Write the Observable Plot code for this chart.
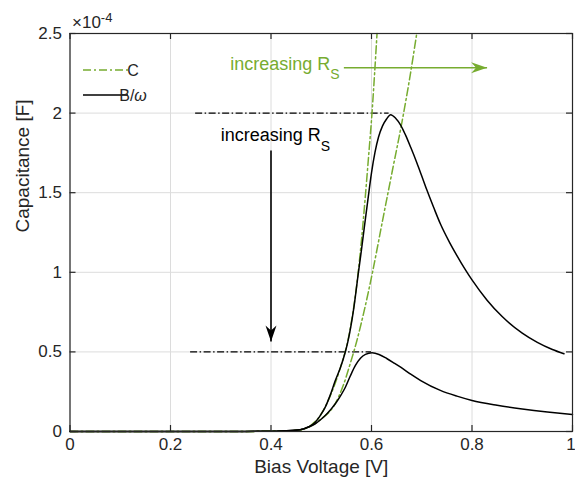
<!DOCTYPE html>
<html>
<head>
<meta charset="utf-8">
<script src="https://cdn.jsdelivr.net/npm/d3@7"></script>
<script src="https://cdn.jsdelivr.net/npm/@observablehq/plot@0.6"></script>
<style>
  html, body { margin: 0; padding: 0; background: #fff; }
  #chart { width: 575px; height: 486px; }
</style>
</head>
<body>
<div id="chart"></div>
<script>
// ---------- tick labels ----------
const xTicks = [0, 0.2, 0.4, 0.6, 0.8, 1];
const yTicks = [0, 0.5, 1, 1.5, 2, 2.5];      // in units of 1e-4 F
const yExponent = "-4";

// ---------- B/omega, low series resistance (tall peak) ----------
const bLowV = [0, 0.2, 0.35, 0.4, 0.43, 0.458, 0.475, 0.488, 0.498, 0.508, 0.518, 0.528, 0.538, 0.547, 0.553, 0.565, 0.574, 0.580, 0.586, 0.593, 0.600, 0.607, 0.614, 0.622, 0.630, 0.638, 0.648, 0.658, 0.668, 0.678, 0.690, 0.700, 0.711, 0.724, 0.737, 0.755, 0.770, 0.787, 0.800, 0.830, 0.860, 0.900, 0.930, 0.960, 0.983];
const bLowC = [0, 0, 0.0005, 0.002, 0.004, 0.011, 0.030, 0.058, 0.100, 0.153, 0.230, 0.320, 0.400, 0.490, 0.565, 0.780, 1.000, 1.140, 1.290, 1.460, 1.625, 1.755, 1.850, 1.920, 1.963, 1.990, 1.968, 1.925, 1.860, 1.785, 1.690, 1.605, 1.510, 1.405, 1.305, 1.190, 1.105, 1.015, 0.952, 0.825, 0.722, 0.618, 0.560, 0.515, 0.488];

// ---------- B/omega, high series resistance (low peak) ----------
const bHighV = [0, 0.2, 0.35, 0.4, 0.43, 0.458, 0.475, 0.488, 0.498, 0.508, 0.518, 0.528, 0.538, 0.548, 0.558, 0.568, 0.578, 0.588, 0.601, 0.615, 0.631, 0.645, 0.658, 0.678, 0.698, 0.737, 0.770, 0.800, 0.850, 0.900, 0.950, 1.000];
const bHighC = [0, 0, 0.0005, 0.002, 0.004, 0.011, 0.028, 0.048, 0.072, 0.100, 0.135, 0.174, 0.222, 0.278, 0.350, 0.415, 0.460, 0.484, 0.494, 0.484, 0.457, 0.430, 0.404, 0.360, 0.320, 0.258, 0.222, 0.195, 0.165, 0.142, 0.123, 0.107];

// ---------- C, low series resistance (steep) ----------
const cLowV = [0, 0.2, 0.35, 0.4, 0.43, 0.458, 0.48, 0.50, 0.52, 0.54, 0.553, 0.5735, 0.580, 0.587, 0.594, 0.601, 0.606, 0.611];
const cLowC = [0, 0, 0.0005, 0.002, 0.004, 0.011, 0.040, 0.110, 0.240, 0.420, 0.570, 1.000, 1.200, 1.450, 1.720, 2.000, 2.240, 2.500];

// ---------- C, high series resistance ----------
const cHighV = [0, 0.2, 0.35, 0.4, 0.43, 0.458, 0.48, 0.50, 0.525, 0.545, 0.558, 0.571, 0.587, 0.602, 0.622, 0.641, 0.661, 0.675, 0.690];
const cHighC = [0, 0, 0.0005, 0.002, 0.004, 0.011, 0.035, 0.080, 0.160, 0.300, 0.430, 0.572, 0.780, 1.000, 1.325, 1.630, 1.950, 2.200, 2.500];

// ---------- annotations (data coordinates) ----------
const refLevels = [2.0, 0.5];          // dash-dot peak markers
const refFrom   = [0.25, 0.24];
const refTo     = [0.635, 0.60];
const annoLabels = ["increasing RS", "increasing RS"];
const annoX      = [0.30, 0.319];
const annoY      = [1.86, 2.31];
const annoColor  = ["black", "green"];
const arrowX1 = [0.40, 0.545], arrowY1 = [1.765, 2.285];
const arrowX2 = [0.40, 0.830], arrowY2 = [0.565, 2.285];
const legendLabels = ["C", "B/ω"];

// ---------- styling ----------
const GREEN = "#77AC30";
const INK = "#262626";
const FONT = "'Liberation Sans', Arial, Helvetica, sans-serif";
const DASHDOT = "8,3,2,3";

const toRows = (vs, cs, rs) => vs.map((v, i) => ({v, c: cs[i], rs}));
const bRows = [...toRows(bLowV, bLowC, "low"), ...toRows(bHighV, bHighC, "high")];
const cRows = [...toRows(cLowV, cLowC, "low"), ...toRows(cHighV, cHighC, "high")];
const refRows = refLevels.map((y, i) => ({y, x1: refFrom[i], x2: refTo[i]}));
const annoRows = annoLabels.map((t, i) => ({t, x: annoX[i], y: annoY[i], color: annoColor[i] === "green" ? GREEN : "black"}));
const arrowRows = arrowX1.map((x1, i) => ({x1, y1: arrowY1[i], x2: arrowX2[i], y2: arrowY2[i],
  color: annoColor[i] === "green" ? GREEN : "black",
  rot: arrowX2[i] > arrowX1[i] ? -90 : 0}));

// filled arrow head with notch, tip at origin, pointing down
const arrowHead = {
  draw(ctx) {
    ctx.moveTo(0, 0);
    ctx.lineTo(-5.5, -16);
    ctx.lineTo(0, -11);
    ctx.lineTo(5.5, -16);
    ctx.closePath();
  }
};

const W = 575, H = 486;
const mL = 69.5, mR = 3, mT = 33, mB = 55;
const fw = W - mL - mR, fh = H - mT - mB;
const TICK = 6;

const svg = Plot.plot({
  width: W, height: H,
  marginLeft: mL, marginRight: mR, marginTop: mT, marginBottom: mB,
  style: {fontFamily: FONT, fontSize: "17px", color: INK, background: "white", overflow: "visible"},
  x: {domain: [0, 1]},
  y: {domain: [0, 2.5]},
  marks: [
    Plot.gridX(xTicks, {stroke: "#dcdcdc", strokeOpacity: 1, strokeWidth: 1}),
    Plot.gridY(yTicks, {stroke: "#dcdcdc", strokeOpacity: 1, strokeWidth: 1}),
    Plot.ruleY(refRows, {y: "y", x1: "x1", x2: "x2", stroke: "black", strokeWidth: 1.3, strokeDasharray: "7,2.5,1.5,2.5"}),
    Plot.line(cRows, {x: "v", y: "c", z: "rs", stroke: GREEN, strokeWidth: 1.5, strokeDasharray: DASHDOT, curve: "monotone-x"}),
    Plot.line(bRows, {x: "v", y: "c", z: "rs", stroke: "black", strokeWidth: 1.5, curve: "monotone-x"}),
    Plot.link(arrowRows, {x1: "x1", y1: "y1", x2: "x2", y2: "y2", stroke: "color", strokeWidth: 1.6}),
    Plot.dot(arrowRows, {x: "x2", y: "y2", symbol: arrowHead, rotate: "rot", fill: "color", stroke: null, r: 5}),
    Plot.text(annoRows, {x: "x", y: "y", text: "t", fill: "color", textAnchor: "start", lineAnchor: "middle", fontSize: 18}),
    // frame & inward ticks (MATLAB box style)
    Plot.frame({stroke: INK, strokeWidth: 1.2}),
    Plot.tickX(xTicks, {x: d => d, insetTop: fh - TICK, stroke: INK, strokeWidth: 1.2}),
    Plot.tickX(xTicks, {x: d => d, insetBottom: fh - TICK, stroke: INK, strokeWidth: 1.2}),
    Plot.tickY(yTicks, {y: d => d, insetRight: fw - TICK, stroke: INK, strokeWidth: 1.2}),
    Plot.tickY(yTicks, {y: d => d, insetLeft: fw - TICK, stroke: INK, strokeWidth: 1.2}),
    Plot.axisX(xTicks, {tickSize: 0, tickPadding: 6, label: null, fontSize: 17, fill: INK, tickFormat: d => String(d)}),
    Plot.axisY(yTicks, {tickSize: 0, tickPadding: 8, label: null, fontSize: 17, fill: INK, tickFormat: d => String(d)}),
    Plot.text(["Bias Voltage [V]"], {frameAnchor: "bottom", dy: 35, fontSize: 19, fill: INK, lineAnchor: "middle"}),
    Plot.text(["Capacitance [F]"], {frameAnchor: "left", dx: -47.5, rotate: -90, fontSize: 19, fill: INK, lineAnchor: "middle"}),
    Plot.text(["×10" + yExponent], {frameAnchor: "top-left", dx: 2, dy: -10.5, textAnchor: "start", lineAnchor: "middle", fontSize: 17, fill: INK})
  ]
});

// rich text: subscripts / superscripts
const root = d3.select(svg);
root.selectAll("text").filter(function () { return this.textContent === "increasing RS"; }).each(function () {
  const t = d3.select(this);
  t.text(null);
  t.append("tspan").text("increasing R");
  t.append("tspan").attr("dy", 10).attr("font-size", 14).text("S");
});
root.selectAll("text").filter(function () { return this.textContent === "×10" + yExponent; }).each(function () {
  const t = d3.select(this);
  t.text(null);
  t.append("tspan").text("×10");
  t.append("tspan").attr("dy", -6).attr("font-size", 13).text(yExponent);
});
// keep the right-most x tick label inside the page
root.selectAll("text").filter(function () { return this.textContent === "1" && this.closest("g[aria-label='x-axis tick label']"); })
  .attr("dx", -1.5);

// legend (inside the axes, top-left, no box)
const lg = root.append("g").attr("font-family", FONT).attr("font-size", 16).attr("fill", INK);
const legendStyles = [{stroke: GREEN, dash: DASHDOT}, {stroke: "black", dash: null}];
legendLabels.forEach((lab, i) => {
  const yy = 70 + i * 25;
  lg.append("line").attr("x1", 83).attr("x2", 128).attr("y1", yy).attr("y2", yy)
    .attr("stroke", legendStyles[i].stroke).attr("stroke-width", 1.5)
    .attr("stroke-dasharray", legendStyles[i].dash);
  const t = lg.append("text").attr("x", 133).attr("y", yy).attr("dy", "0.35em");
  if (lab === "B/ω") {
    t.append("tspan").text("B/");
    t.append("tspan").attr("font-style", "italic").text("ω");
  } else t.text(lab);
});

document.getElementById("chart").appendChild(svg);
</script>
</body>
</html>
